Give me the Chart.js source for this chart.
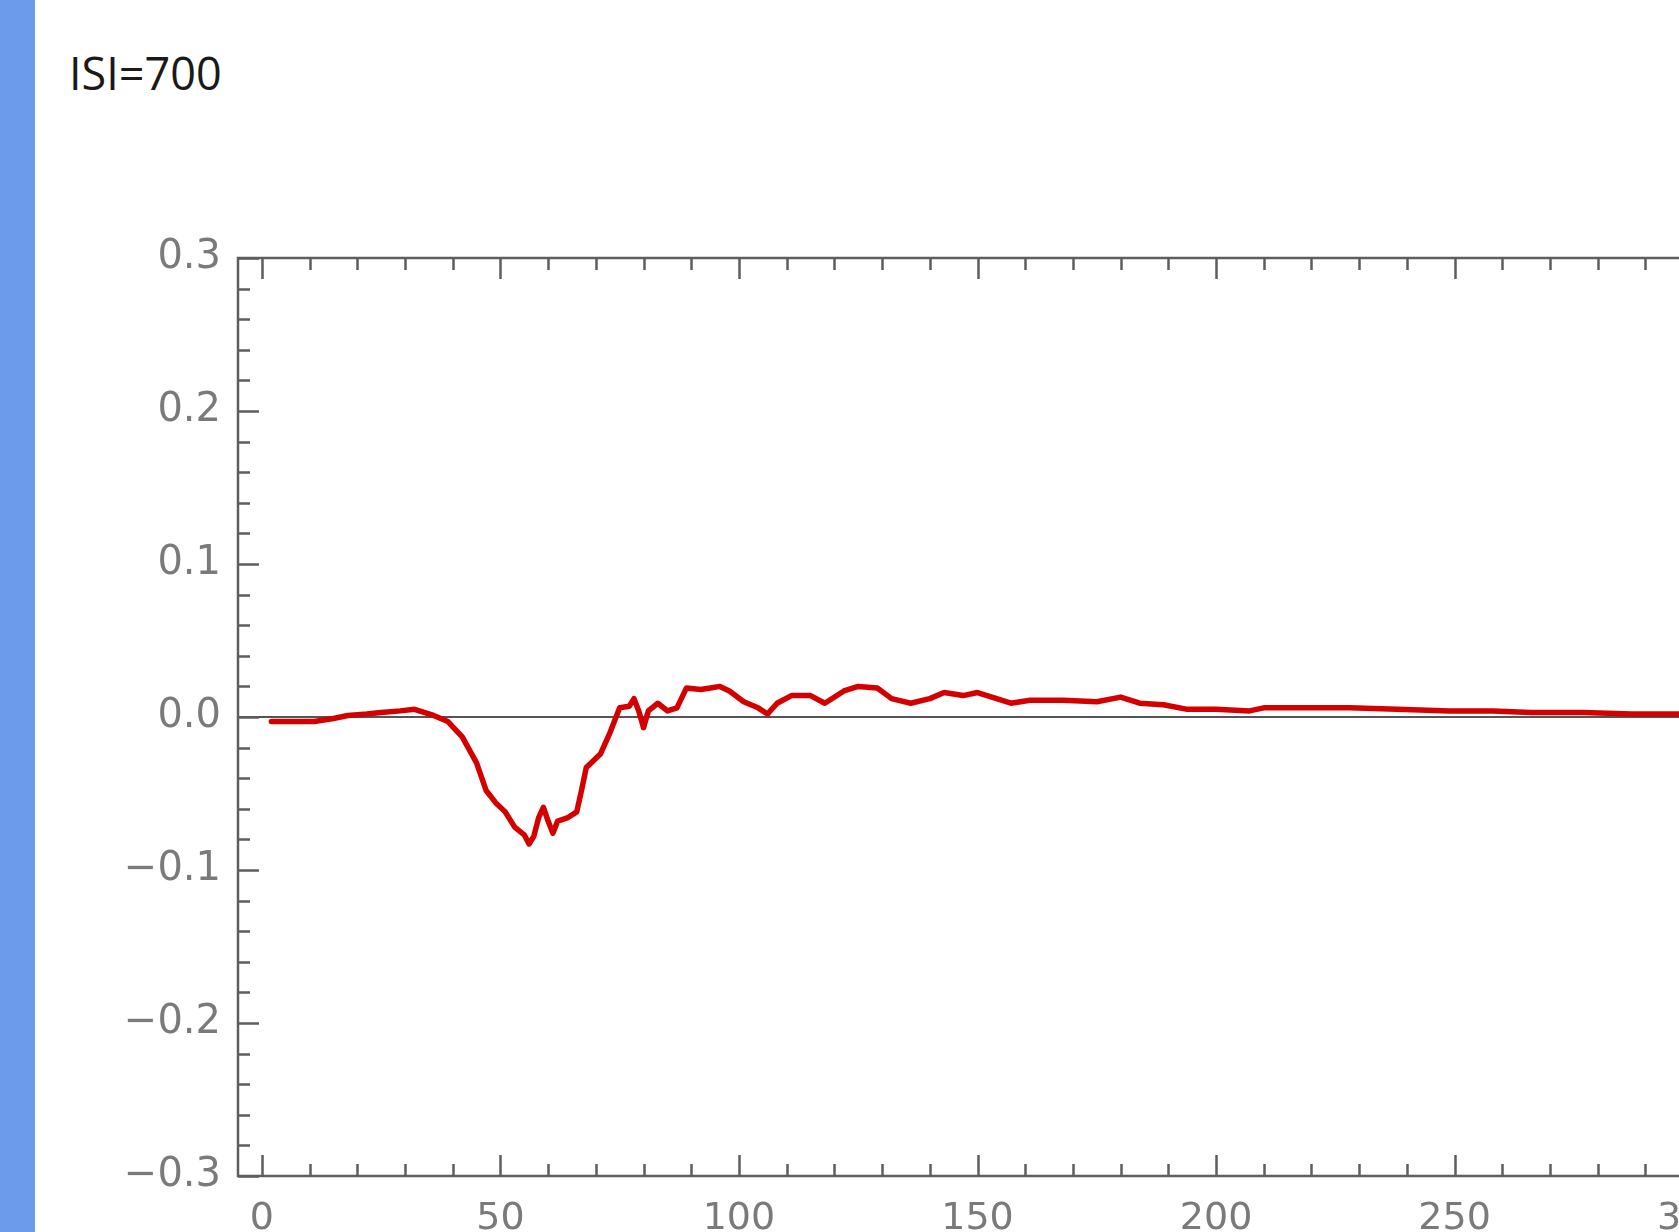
<!DOCTYPE html>
<html>
<head>
<meta charset="utf-8">
<script src="https://cdn.jsdelivr.net/npm/chart.js@4.4.1/dist/chart.umd.min.js"></script>
<style>
  html, body { margin: 0; padding: 0; width: 1679px; height: 1232px; overflow: hidden; background: #ffffff; }
  #bar { position: absolute; left: 0; top: 0; width: 35px; height: 1232px; background: #6b9bea; }
  #title { position: absolute; left: 69px; top: 50px; font-family: "Open Sans", sans-serif; font-size: 45px; line-height: 45px; color: #1a1a1a; white-space: nowrap; }
  #c { position: absolute; left: 0; top: 0; }
</style>
</head>
<body>
<div id="bar"></div>
<div id="title">ISI=700</div>
<canvas id="c" width="1757" height="1232"></canvas>
<script>
// ---- data ----
const xValues = [2, 6, 11, 15, 18, 22, 25, 29, 32, 34, 36, 39, 42, 45, 47, 49, 51, 53, 55, 56, 57, 58, 59, 60, 61, 62, 64, 66, 67, 68, 69, 71, 73, 75, 77, 78, 79, 80, 81, 83, 85, 87, 89, 92, 94, 96, 98, 101, 104, 106, 108, 111, 115, 118, 122, 125, 129, 132, 136, 140, 143, 147, 150, 154, 157, 161, 168, 175, 180, 184, 189, 194, 200, 207, 210, 218, 228, 238, 249, 258, 266, 277, 287, 297, 300];
const yValues = [-0.003, -0.003, -0.003, -0.001, 0.001, 0.002, 0.003, 0.004, 0.005, 0.003, 0.001, -0.003, -0.013, -0.030, -0.048, -0.056, -0.062, -0.072, -0.077, -0.083, -0.078, -0.066, -0.059, -0.068, -0.076, -0.068, -0.066, -0.062, -0.048, -0.033, -0.030, -0.024, -0.010, 0.006, 0.007, 0.012, 0.004, -0.007, 0.004, 0.009, 0.004, 0.006, 0.019, 0.018, 0.019, 0.020, 0.017, 0.010, 0.006, 0.002, 0.009, 0.014, 0.014, 0.009, 0.017, 0.020, 0.019, 0.012, 0.009, 0.012, 0.016, 0.014, 0.016, 0.012, 0.009, 0.011, 0.011, 0.010, 0.013, 0.009, 0.008, 0.005, 0.005, 0.004, 0.006, 0.006, 0.006, 0.005, 0.004, 0.004, 0.003, 0.003, 0.002, 0.002, 0.002];
const xTickLabels = [0, 50, 100, 150, 200, 250, 300];
const yTickLabels = [-0.3, -0.2, -0.1, 0.0, 0.1, 0.2, 0.3];
const xMinorStep = 10;
const yMinorStep = 0.02;
const xRange = [-5, 305];
const yRange = [-0.3, 0.3];

// ---- styles ----
const FRAME = '#5e5e5e';
const LABEL = '#7a7a7a';

const points = xValues.map((x, i) => ({ x: x, y: yValues[i] }));

const frameTicks = {
  id: 'frameTicks',
  afterDatasetsDraw(chart) {
    const { ctx, chartArea: a, scales } = chart;
    const xs = scales.x, ys = scales.y;
    ctx.save();
    ctx.strokeStyle = FRAME;
    ctx.lineWidth = 2.5;
    ctx.strokeRect(a.left, a.top, a.right - a.left, a.bottom - a.top);
    ctx.beginPath();
    // x ticks (bottom and top, pointing inward)
    const nx = Math.round(300 / xMinorStep);
    for (let i = 0; i <= nx; i++) {
      const v = i * xMinorStep;
      const px = Math.round(xs.getPixelForValue(v)) + 0.5;
      const len = (v % 50 === 0) ? 21 : 12;
      ctx.moveTo(px, a.bottom); ctx.lineTo(px, a.bottom - len);
      ctx.moveTo(px, a.top); ctx.lineTo(px, a.top + len);
    }
    // y ticks (left and right, pointing inward)
    const ny = Math.round((yRange[1] - yRange[0]) / yMinorStep);
    for (let i = 0; i <= ny; i++) {
      const v = yRange[0] + i * yMinorStep;
      const py = Math.round(ys.getPixelForValue(v)) + 0.5;
      const len = (i % 5 === 0) ? 21 : 12;
      ctx.moveTo(a.left, py); ctx.lineTo(a.left + len, py);
      ctx.moveTo(a.right, py); ctx.lineTo(a.right - len, py);
    }
    ctx.stroke();
    ctx.restore();
  }
};

function fmt(v) {
  const s = Math.abs(v).toFixed(1);
  return v < -1e-9 ? '\u2212' + s : s;
}

new Chart(document.getElementById('c'), {
  type: 'line',
  data: {
    datasets: [{
      data: points,
      borderColor: '#d40000',
      borderWidth: 5.5,
      borderJoinStyle: 'round',
      borderCapStyle: 'round',
      pointRadius: 0,
      tension: 0,
      fill: false
    }]
  },
  options: {
    responsive: false,
    animation: false,
    devicePixelRatio: 1,
    layout: { padding: { top: 258, right: 40, left: 0, bottom: 0 } },
    plugins: { legend: { display: false }, tooltip: { enabled: false }, title: { display: false } },
    scales: {
      x: {
        type: 'linear',
        min: xRange[0],
        max: xRange[1],
        afterBuildTicks: s => { s.ticks = xTickLabels.map(v => ({ value: v })); },
        afterFit: s => { s.height = 56; },
        grid: { display: false, drawTicks: false },
        border: { display: false },
        ticks: {
          autoSkip: false,
          maxRotation: 0,
          padding: 20,
          color: LABEL,
          font: { family: 'DejaVu Sans', size: 38 },
          callback: v => String(v)
        }
      },
      y: {
        type: 'linear',
        min: yRange[0],
        max: yRange[1],
        afterBuildTicks: s => { s.ticks = yTickLabels.map(v => ({ value: v })); },
        afterFit: s => { s.width = 238; },
        grid: {
          drawTicks: false,
          lineWidth: 2,
          color: c => (c.tick && Math.abs(c.tick.value) < 1e-9) ? '#555555' : 'rgba(0,0,0,0)'
        },
        border: { display: false },
        ticks: {
          padding: 17,
          color: LABEL,
          font: { family: 'DejaVu Sans', size: 40 },
          callback: v => fmt(v)
        }
      }
    }
  },
  plugins: [frameTicks]
});
</script>
</body>
</html>
